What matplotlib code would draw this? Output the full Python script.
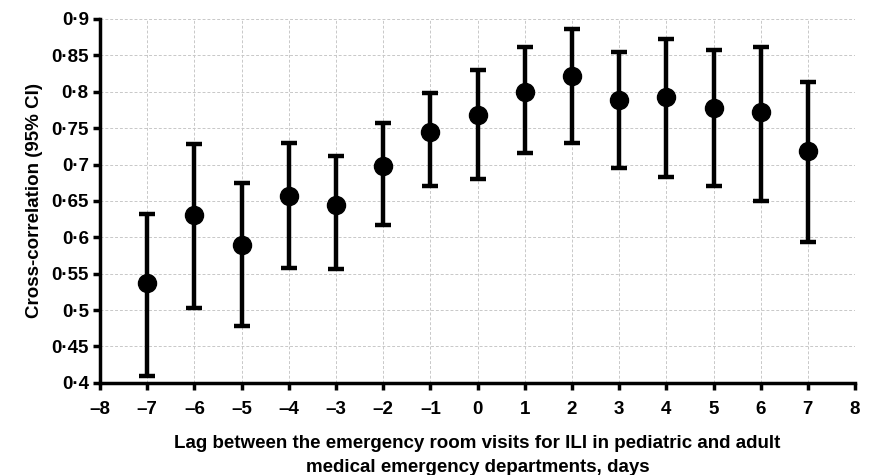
import matplotlib
matplotlib.use("Agg")
import matplotlib.pyplot as plt
from matplotlib.ticker import FuncFormatter, MultipleLocator

plt.rcParams['font.family'] = ['Liberation Sans', 'DejaVu Sans']
plt.rcParams['font.weight'] = 'bold'

# lag (days) and cross-correlation with 95% CI
lags = [-7, -6, -5, -4, -3, -2, -1, 0, 1, 2, 3, 4, 5, 6, 7]
corr = [0.537, 0.630, 0.590, 0.657, 0.645, 0.698, 0.745, 0.768,
        0.800, 0.821, 0.789, 0.793, 0.778, 0.772, 0.719]
ci_low = [0.410, 0.503, 0.478, 0.558, 0.556, 0.617, 0.670, 0.680,
          0.716, 0.730, 0.695, 0.683, 0.670, 0.650, 0.593]
ci_high = [0.632, 0.728, 0.675, 0.730, 0.712, 0.757, 0.798, 0.830,
           0.861, 0.886, 0.855, 0.873, 0.857, 0.861, 0.814]

err_low = [c - l for c, l in zip(corr, ci_low)]
err_high = [h - c for c, h in zip(corr, ci_high)]

fig = plt.figure(figsize=(8.69, 4.75), dpi=100)
ax = fig.add_axes([0.115, 0.194, 0.869, 0.766])

ax.errorbar(lags, corr, yerr=[err_low, err_high], fmt='o', color='black',
            markersize=13, elinewidth=3.2, capsize=6, capthick=3.2, zorder=3)

ax.set_xlim(-8, 8)
ax.set_ylim(0.4, 0.9)
ax.xaxis.set_major_locator(MultipleLocator(1))
ax.yaxis.set_major_locator(MultipleLocator(0.05))
ax.xaxis.set_major_formatter(FuncFormatter(lambda v, p: f"{int(round(v))}".replace('-', '\u2013')))
ax.yaxis.set_major_formatter(FuncFormatter(lambda v, p: f"{v:.2f}".rstrip('0').replace('.', '\u00b7')))

ax.grid(True, linestyle=(0, (3, 2)), color='#c8c8c8', linewidth=0.7)
ax.set_axisbelow(True)

for s in ['top', 'right']:
    ax.spines[s].set_visible(False)
for s in ['left', 'bottom']:
    ax.spines[s].set_linewidth(2.5)
ax.tick_params(axis='both', direction='out', length=5, width=2.5, labelsize=13.5)
ax.tick_params(axis='x', pad=8)
ax.tick_params(axis='y', pad=3)

ax.set_ylabel('Cross-correlation (95% CI)', fontsize=13.5, fontweight='bold', labelpad=6)
ax.set_xlabel('Lag between the emergency room visits for ILI in pediatric and adult\nmedical emergency departments, days',
              fontsize=13.5, fontweight='bold', labelpad=12, linespacing=1.55)

fig.savefig('out.png', dpi=100)
